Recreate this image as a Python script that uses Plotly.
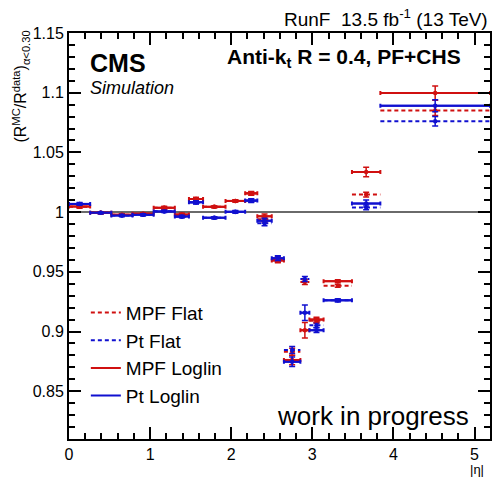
import plotly.graph_objects as go

# |eta| bin edges
eta_edges = [0.0, 0.261, 0.522, 0.783, 1.044, 1.305, 1.479, 1.653, 1.930, 2.172,
             2.322, 2.500, 2.650, 2.853, 2.964, 3.139, 3.489, 3.839, 5.191]

mpf_flat = [1.0045, 0.9995, 0.9978, 0.9986, 1.0036, 0.9978, 1.0110, 1.0044, 1.0094,
            1.0156, 0.9940, 0.9600, 0.8830, 0.9414, 0.9090, 0.9383, 1.0147, 1.0850]
mpf_flat_err = [0.0010, 0.0008, 0.0008, 0.0008, 0.0010, 0.0010, 0.0012, 0.0008, 0.0010,
                0.0015, 0.0020, 0.0020, 0.0030, 0.0020, 0.0020, 0.0012, 0.0020, 0.0040]

pt_flat = [1.0067, 0.9994, 0.9972, 0.9978, 1.0008, 0.9962, 1.0081, 0.9953, 1.0002,
           1.0095, 0.9906, 0.9610, 0.8845, 0.9440, 0.9053, 0.9261, 1.0039, 1.0761]
pt_flat_err = [0.0010, 0.0008, 0.0008, 0.0008, 0.0010, 0.0010, 0.0012, 0.0008, 0.0010,
               0.0015, 0.0020, 0.0020, 0.0030, 0.0020, 0.0020, 0.0012, 0.0020, 0.0040]

mpf_loglin = [1.0047, 0.9995, 0.9978, 0.9986, 1.0036, 0.9980, 1.0110, 1.0044, 1.0094,
              1.0158, 0.9965, 0.9595, 0.8762, 0.9011, 0.9100, 0.9422, 1.0336, 1.0997]
mpf_loglin_err = [0.0012, 0.0008, 0.0008, 0.0008, 0.0010, 0.0010, 0.0012, 0.0008, 0.0010,
                  0.0015, 0.0020, 0.0020, 0.0040, 0.0065, 0.0020, 0.0012, 0.0040, 0.0060]

pt_loglin = [1.0069, 0.9994, 0.9972, 0.9978, 1.0006, 0.9964, 1.0083, 0.9953, 1.0003,
             1.0097, 0.9928, 0.9614, 0.8747, 0.9158, 0.9011, 0.9261, 1.0072, 1.0890]
pt_loglin_err = [0.0012, 0.0008, 0.0008, 0.0008, 0.0010, 0.0010, 0.0012, 0.0008, 0.0010,
                 0.0015, 0.0020, 0.0020, 0.0040, 0.0065, 0.0020, 0.0012, 0.0030, 0.0050]

RED = "#d01010"
BLUE = "#1010d0"
FONT = "Liberation Sans, Arial, sans-serif"

centers = [(a + b) / 2 for a, b in zip(eta_edges[:-1], eta_edges[1:])]
halfw = [(b - a) / 2 for a, b in zip(eta_edges[:-1], eta_edges[1:])]

series = [
    ("MPF Flat", mpf_flat, mpf_flat_err, RED, "dash"),
    ("Pt Flat", pt_flat, pt_flat_err, BLUE, "dash"),
    ("MPF Loglin", mpf_loglin, mpf_loglin_err, RED, "solid"),
    ("Pt Loglin", pt_loglin, pt_loglin_err, BLUE, "solid"),
]

fig = go.Figure()

# reference line at 1
fig.add_shape(type="line", xref="x", yref="y", x0=eta_edges[0], x1=eta_edges[-1],
              y0=1, y1=1, line=dict(color="#6a6a6a", width=2), layer="below")

for name, vals, errs, col, dash in series:
    xs, ys = [], []
    for i, v in enumerate(vals):
        xs += [eta_edges[i], eta_edges[i + 1], None]
        ys += [v, v, None]
    fig.add_trace(go.Scatter(x=xs, y=ys, mode="lines", name=name, legendgroup=name,
                             line=dict(color=col, width=2,
                                       dash="solid" if dash == "solid" else "4px,3px"),
                             hoverinfo="skip"))

for name, vals, errs, col, dash in series:
    kw = {}
    if dash == "solid":
        kw["error_x"] = dict(type="data", array=halfw, visible=True, color=col,
                             thickness=2, width=2)
    fig.add_trace(go.Scatter(x=centers, y=vals, mode="markers", name=name,
                             legendgroup=name, showlegend=False,
                             marker=dict(color=col, size=4.5),
                             error_y=dict(type="data", array=errs, visible=True,
                                          color=col, thickness=1.5, width=3),
                             **kw))

fig.update_layout(
    width=495, height=477,
    margin=dict(l=69, r=3, t=33, b=38),
    paper_bgcolor="white", plot_bgcolor="white",
    font=dict(family=FONT, size=16, color="black"),
    showlegend=True,
    legend=dict(x=0.04, y=0.358, xanchor="left", yanchor="top",
                bgcolor="rgba(0,0,0,0)", font=dict(size=19, family=FONT),
                tracegroupgap=0, itemwidth=30),
    xaxis=dict(range=[0, 5.191], showgrid=False, zeroline=False,
               showline=True, linecolor="black", linewidth=2, mirror="allticks",
               ticks="inside", ticklen=12, tickwidth=1.5, tickcolor="black",
               dtick=1, tick0=0, tickfont=dict(size=16),
               minor=dict(dtick=0.2, tick0=0, ticks="inside", ticklen=6,
                          tickwidth=1.5, tickcolor="black")),
    yaxis=dict(range=[0.81, 1.15], showgrid=False, zeroline=False,
               showline=True, linecolor="black", linewidth=2, mirror="allticks",
               ticks="inside", ticklen=12, tickwidth=1.5, tickcolor="black",
               dtick=0.05, tick0=0.8, tickfont=dict(size=16),
               minor=dict(dtick=0.01, tick0=0.8, ticks="inside", ticklen=6,
                          tickwidth=1.5, tickcolor="black")),
)

ann = [
    dict(text="RunF  13.5 fb<sup>-1</sup> (13 TeV)", x=1.0, y=1.0, xref="paper",
         yref="paper", xanchor="right", yanchor="bottom", yshift=1,
         font=dict(size=19), showarrow=False),
    dict(text="<b>CMS</b>", x=0.045, y=0.965, xref="paper", yref="paper",
         xanchor="left", yanchor="top", font=dict(size=25), showarrow=False),
    dict(text="<i>Simulation</i>", x=0.045, y=0.895, xref="paper", yref="paper",
         xanchor="left", yanchor="top", font=dict(size=18), showarrow=False),
    dict(text="<b>Anti-k<sub>t</sub> R = 0.4, PF+CHS</b>", x=0.937, y=0.975,
         xref="paper", yref="paper", xanchor="right", yanchor="top",
         font=dict(size=21), showarrow=False),
    dict(text="work in progress", x=0.955, y=0.015, xref="paper", yref="paper",
         xanchor="right", yanchor="bottom", font=dict(size=26), showarrow=False),
    dict(text="|η|", x=0.99, y=0, xref="paper", yref="paper", xanchor="right",
         yanchor="top", yshift=-21, font=dict(size=13), showarrow=False),
    dict(text="(R<sup>MC</sup>/R<sup>data</sup>)<sub>α<0.30</sub>", x=-0.115, y=1.01,
         xref="paper", yref="paper", xanchor="center", yanchor="top",
         textangle=-90, font=dict(size=16), showarrow=False),
]
fig.update_layout(annotations=ann)

fig.write_html("out.html", config={"displayModeBar": False},
               post_script="document.body.style.margin='0';document.body.style.padding='0';")
